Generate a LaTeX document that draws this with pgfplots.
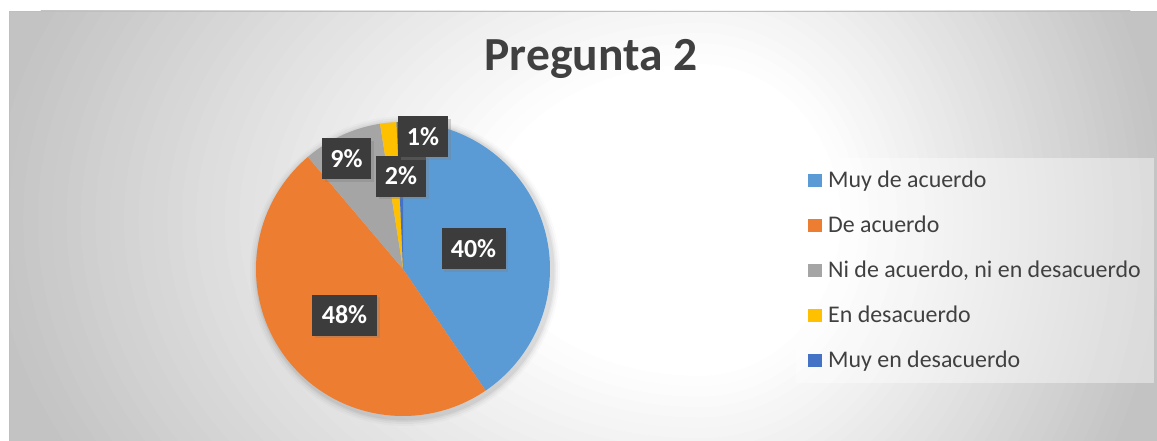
\documentclass[border=0pt]{standalone}
\usepackage{fontspec}
\setmainfont{Carlito}
\usepackage{pgfplots}
\pgfplotsset{compat=1.18}
\usepackage{pgfplotstable}
\usetikzlibrary{shadows}
\definecolor{cblue}{HTML}{5B9BD5}
\definecolor{corange}{HTML}{ED7D31}
\definecolor{cgray}{HTML}{A5A5A5}
\definecolor{cyellow}{HTML}{FFC000}
\definecolor{cdblue}{HTML}{4472C4}
\definecolor{tc}{HTML}{404040}
\definecolor{lblc}{HTML}{3C3C3C}
\definecolor{bgout}{HTML}{C3C3C3}
\definecolor{frame}{HTML}{BFBFBF}
\tikzset{lbl/.style={fill=lblc, text=white, font=\bfseries\fontsize{26bp}{30bp}\selectfont,
    minimum height=41bp, inner sep=0pt,
    drop shadow={shadow xshift=2.5bp, shadow yshift=-2.5bp, opacity=0.35}}}

\pgfplotstableread{
idx val
0 40.5
1 48.3
2 8.7
3 1.8
4 0.7
}\piedata

\begin{document}
\pgfplotstablegetelem{0}{val}\of\piedata\pgfmathsetmacro\vA{\pgfplotsretval}%
\pgfplotstablegetelem{1}{val}\of\piedata\pgfmathsetmacro\vB{\pgfplotsretval}%
\pgfplotstablegetelem{2}{val}\of\piedata\pgfmathsetmacro\vC{\pgfplotsretval}%
\pgfplotstablegetelem{3}{val}\of\piedata\pgfmathsetmacro\vD{\pgfplotsretval}%
\pgfplotstablegetelem{4}{val}\of\piedata\pgfmathsetmacro\vE{\pgfplotsretval}%
\pgfmathsetmacro\aA{0}%
\pgfmathsetmacro\aB{\aA+3.6*\vA}%
\pgfmathsetmacro\aC{\aB+3.6*\vB}%
\pgfmathsetmacro\aD{\aC+3.6*\vC}%
\pgfmathsetmacro\aE{\aD+3.6*\vD}%
\pgfmathsetmacro\aF{\aE+3.6*\vE}%
\begin{tikzpicture}
\useasboundingbox (0,0) rectangle (1157bp,441bp);
\fill[white] (0,0) rectangle (1157bp,441bp);
% chart area background (stepped radial gradient)
\fill[bgout] (9bp,0) rectangle (1157bp,430bp);
\begin{scope}
\clip (9bp,0) rectangle (700.5bp,430bp);
\foreach \i in {0,...,35}{
  \pgfmathsetmacro\f{1-0.02*\i}
  \pgfmathsetmacro\p{max(0,(\f-0.3)/0.7*100)}
  \pgfmathsetmacro\rx{\f*720}
  \pgfmathsetmacro\ry{\f*520}
  \fill[bgout!\p!white] (700bp,221bp) ellipse [x radius=\rx bp, y radius=\ry bp];
}
\end{scope}
\begin{scope}
\clip (700bp,0) rectangle (1157bp,430bp);
\foreach \i in {0,...,35}{
  \pgfmathsetmacro\f{1-0.02*\i}
  \pgfmathsetmacro\p{max(0,(\f-0.3)/0.7*100)}
  \pgfmathsetmacro\rx{\f*470}
  \pgfmathsetmacro\ry{\f*520}
  \fill[bgout!\p!white] (700bp,221bp) ellipse [x radius=\rx bp, y radius=\ry bp];
}
\end{scope}
\draw[frame, line width=1bp] (9.5bp,0) -- (9.5bp,429.5bp) -- (1157bp,429.5bp);
% pie soft shadow
\foreach \r/\o in {155/0.02,153/0.03,151/0.04,149.5/0.05}{
  \fill[black, opacity=\o] (405bp,170bp) circle [radius=\r bp];
}
% legend box
\fill[white, opacity=0.4] (796bp,283bp) rectangle (1154bp,58bp);
\begin{axis}[
  at={(0,0)}, anchor=south west,
  scale only axis, width=1157bp, height=441bp,
  xmin=0, xmax=1157, ymin=0, ymax=441, y dir=reverse,
  hide axis, clip=false,
  legend image code/.code={\fill[#1] (0bp,-5bp) rectangle (13.3bp,8.3bp);},
  legend cell align=left,
  legend style={draw=none, fill=none, at={(0.6986,0.6116)}, anchor=north west,
    inner sep=0pt, outer sep=0pt, row sep=23bp, column sep=6.6bp,
    font=\fontsize{23.9bp}{27bp}\selectfont, text=tc,
    nodes={inner sep=0pt, text height=16bp, text depth=6bp}},
]
\addplot[fill=cblue, draw=none, domain=\aA:\aB, samples=90, variable=\t]
  ({403+147*sin(\t)}, {269-147*cos(\t)}) -- (axis cs:403,269) -- cycle;
\addlegendentry{Muy de acuerdo}
\addplot[fill=corange, draw=none, domain=\aB:\aC, samples=90, variable=\t]
  ({403+147*sin(\t)}, {269-147*cos(\t)}) -- (axis cs:403,269) -- cycle;
\addlegendentry{De acuerdo}
\addplot[fill=cgray, draw=none, domain=\aC:\aD, samples=30, variable=\t]
  ({403+147*sin(\t)}, {269-147*cos(\t)}) -- (axis cs:403,269) -- cycle;
\addlegendentry{Ni de acuerdo, ni en desacuerdo}
\addplot[fill=cyellow, draw=none, domain=\aD:\aE, samples=10, variable=\t]
  ({403+147*sin(\t)}, {269-147*cos(\t)}) -- (axis cs:403,269) -- cycle;
\addlegendentry{En desacuerdo}
\addplot[fill=cdblue, draw=none, domain=\aE:\aF, samples=6, variable=\t]
  ({403+147*sin(\t)}, {269-147*cos(\t)}) -- (axis cs:403,269) -- cycle;
\addlegendentry{Muy en desacuerdo}
% title
\node[anchor=base, text=tc, font=\bfseries\fontsize{47.5bp}{52bp}\selectfont] at (axis cs:591,70) {Pregunta 2};
% data labels
\node[lbl, minimum width=64bp] at (axis cs:473.5,248.5) {40\%};
\node[lbl, minimum width=65bp] at (axis cs:344.5,315) {48\%};
\node[lbl, minimum width=49bp] at (axis cs:346.5,158.5) {9\%};
\node[lbl, minimum width=50bp] at (axis cs:401,176) {2\%};
\node[lbl, minimum width=50bp] at (axis cs:423,136.5) {1\%};
\end{axis}
\end{tikzpicture}
\end{document}
